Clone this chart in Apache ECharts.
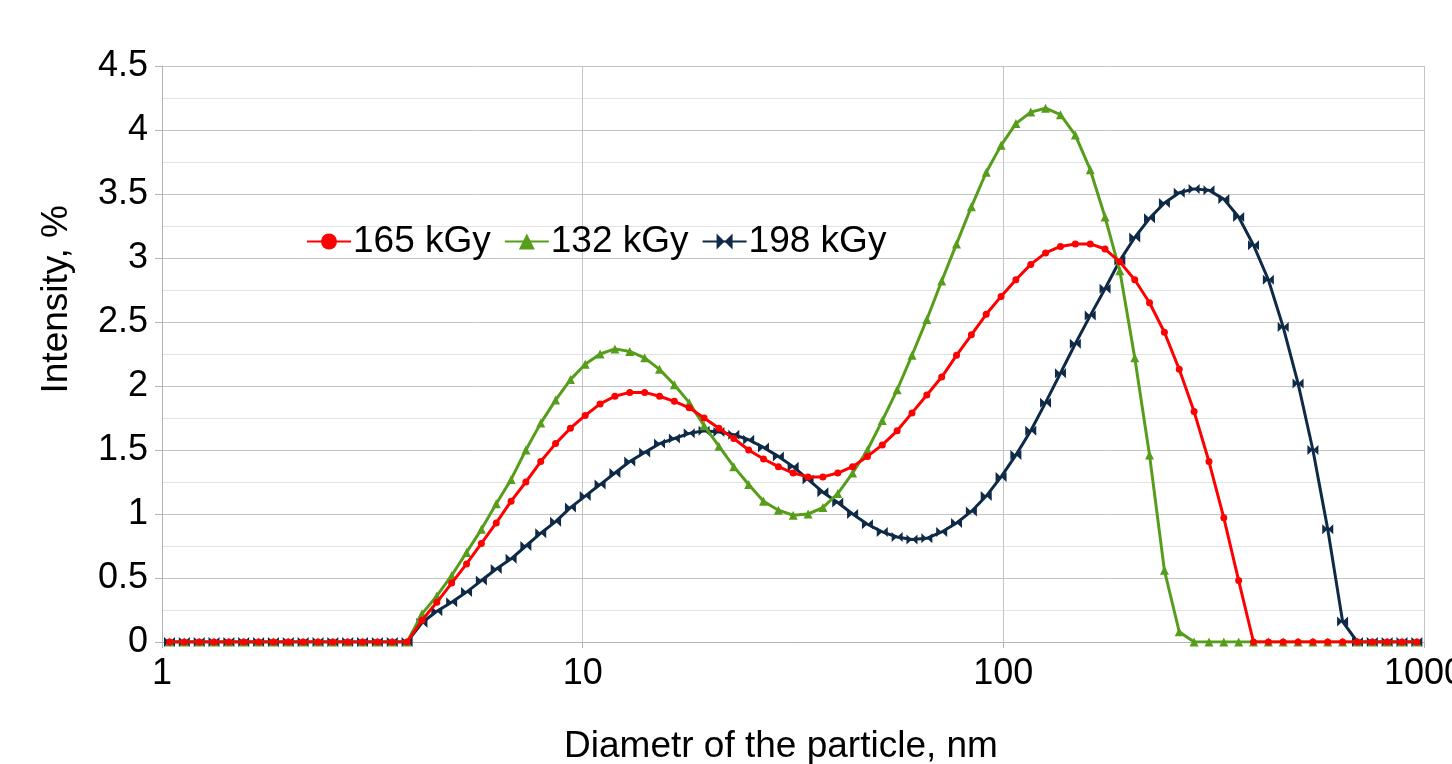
<!DOCTYPE html>
<html>
<head>
<meta charset="utf-8">
<script src="https://cdn.jsdelivr.net/npm/echarts@6/dist/echarts.min.js"></script>
<style>
  html, body { margin:0; padding:0; background:#fff; }
  #chart { width:1452px; height:764px; }
</style>
</head>
<body>
<div id="chart"></div>
<script>
// particle diameter bins, nm (log spaced)
var diameters = [
  1.042, 1.130, 1.226, 1.329, 1.442, 1.564, 1.697, 1.840, 1.996, 2.165,
  2.349, 2.547, 2.763, 2.997, 3.251, 3.527, 3.825, 4.149, 4.501, 4.882,
  5.296, 5.744, 6.231, 6.759, 7.328, 7.949, 8.622, 9.352, 10.14, 11.00,
  11.93, 12.94, 14.04, 15.23, 16.52, 17.92, 19.44, 21.08, 22.87, 24.81,
  26.91, 29.19, 31.65, 34.34, 37.24, 40.40, 43.82, 47.53, 51.55, 55.92,
  60.65, 65.79, 71.36, 77.40, 83.95, 91.06, 98.77, 107.1, 116.2, 126.0,
  136.7, 148.3, 160.9, 174.5, 189.2, 205.3, 222.6, 241.5, 261.9, 284.1,
  308.2, 334.3, 362.6, 393.3, 426.6, 462.7, 501.9, 544.4, 590.5, 640.5,
  694.7, 753.5, 817.3, 886.5, 961.6
];

// intensity, %
var kGy165 = [
  0, 0, 0, 0, 0, 0, 0, 0, 0, 0,
  0, 0, 0, 0, 0, 0, 0, 0.17, 0.31, 0.46,
  0.61, 0.77, 0.93, 1.10, 1.25, 1.41, 1.55, 1.67, 1.77, 1.86,
  1.92, 1.95, 1.95, 1.92, 1.88, 1.83, 1.75, 1.67, 1.59, 1.50,
  1.43, 1.37, 1.32, 1.29, 1.29, 1.32, 1.37, 1.45, 1.54, 1.65,
  1.79, 1.93, 2.07, 2.24, 2.40, 2.56, 2.70, 2.83, 2.95, 3.04,
  3.09, 3.11, 3.11, 3.07, 2.97, 2.83, 2.65, 2.42, 2.13, 1.80,
  1.41, 0.97, 0.48, 0, 0, 0, 0, 0, 0, 0,
  0, 0, 0, 0, 0
];
var kGy132 = [
  0, 0, 0, 0, 0, 0, 0, 0, 0, 0,
  0, 0, 0, 0, 0, 0, 0, 0.22, 0.36, 0.52,
  0.70, 0.88, 1.08, 1.27, 1.50, 1.71, 1.89, 2.05, 2.17, 2.25,
  2.29, 2.27, 2.22, 2.13, 2.01, 1.87, 1.69, 1.53, 1.37, 1.23,
  1.10, 1.03, 0.99, 1.00, 1.05, 1.16, 1.32, 1.50, 1.73, 1.97,
  2.24, 2.52, 2.82, 3.11, 3.40, 3.67, 3.88, 4.05, 4.14, 4.17,
  4.12, 3.96, 3.69, 3.32, 2.90, 2.22, 1.46, 0.56, 0.08, 0,
  0, 0, 0, 0, 0, 0, 0, 0, 0, 0,
  0, 0, 0, 0, 0
];
var kGy198 = [
  0, 0, 0, 0, 0, 0, 0, 0, 0, 0,
  0, 0, 0, 0, 0, 0, 0, 0.15, 0.24, 0.31,
  0.39, 0.48, 0.57, 0.65, 0.75, 0.85, 0.94, 1.05, 1.14, 1.23,
  1.32, 1.41, 1.48, 1.55, 1.59, 1.63, 1.65, 1.64, 1.62, 1.58,
  1.52, 1.45, 1.37, 1.27, 1.17, 1.09, 1.00, 0.92, 0.86, 0.82,
  0.80, 0.81, 0.86, 0.93, 1.02, 1.14, 1.29, 1.46, 1.65, 1.87,
  2.10, 2.33, 2.55, 2.76, 2.98, 3.16, 3.31, 3.43, 3.51, 3.54,
  3.53, 3.46, 3.32, 3.10, 2.83, 2.46, 2.02, 1.50, 0.88, 0.16,
  0, 0, 0, 0, 0
];

var seriesNames = ['165 kGy', '132 kGy', '198 kGy'];
var xTicks = [1, 10, 100, 1000];

var FONT = 'Liberation Sans';
var bowtie = 'path://M0,0 L5,5 L0,10 Z M10,0 L5,5 L10,10 Z';

function pairs(vals){
  var out = [];
  for(var i = 0; i < diameters.length; i++){
    out.push([diameters[i], vals[i]]);
  }
  return out;
}

var chart = echarts.init(document.getElementById('chart'), null, {renderer:'canvas'});

var option = {
  backgroundColor:'#ffffff',
  animation:false,
  textStyle:{ fontFamily:FONT, color:'#000' },
  grid:{
    left:162, right:28, top:66, bottom:122,
    containLabel:false,
    outerBoundsMode:'none'
  },
  legend:{
    data:seriesNames,
    left:301,
    top:218,
    itemWidth:44,
    itemHeight:20,
    itemGap:13,
    textStyle:{ fontFamily:FONT, fontSize:37, color:'#000', padding:[0,0,0,-3] }
  },
  xAxis:{
    type:'log',
    logBase:10,
    min:xTicks[0],
    max:xTicks[xTicks.length-1],
    name:'Diametr of the particle, nm',
    nameLocation:'middle',
    nameGap:86,
    nameTextStyle:{ fontFamily:FONT, fontSize:37, color:'#000', padding:[0,24,0,0] },
    axisLine:{ show:true, onZero:false, lineStyle:{ color:'#b3b3b3', width:1 } },
    axisTick:{ show:true, length:6, lineStyle:{ color:'#b3b3b3' } },
    axisLabel:{
      fontFamily:FONT, fontSize:36, color:'#000', margin:14,
      formatter:function(v){ return String(Math.round(v)); }
    },
    splitLine:{ show:true, lineStyle:{ color:'#c4c4c4', width:1 } },
    minorTick:{ show:false },
    minorSplitLine:{ show:false }
  },
  yAxis:{
    type:'value',
    min:0,
    max:4.5,
    interval:0.5,
    axisLine:{ show:true, lineStyle:{ color:'#b3b3b3', width:1 } },
    axisTick:{ show:true, length:7, lineStyle:{ color:'#b3b3b3' } },
    axisLabel:{ fontFamily:FONT, fontSize:36, color:'#000', margin:14 },
    splitLine:{ show:true, lineStyle:{ color:'#c4c4c4', width:1 } },
    minorTick:{ show:false, splitNumber:2 },
    minorSplitLine:{ show:true, lineStyle:{ color:'#e3e3e3', width:1 } }
  },
  graphic:[{
    type:'text',
    left:38,
    top:205,
    rotation:Math.PI/2,
    style:{
      text:'Intensity, %',
      font:'37px "Liberation Sans"',
      fill:'#000'
    }
  }],
  series:[
    {
      name:seriesNames[2],
      type:'line',
      data:pairs(kGy198),
      symbol:bowtie,
      symbolSize:[11,10],
      showAllSymbol:true,
      color:'#0e2a47',
      lineStyle:{ width:3, color:'#0e2a47' },
      itemStyle:{ color:'#0e2a47' },
      z:2
    },
    {
      name:seriesNames[1],
      type:'line',
      data:pairs(kGy132),
      symbol:'triangle',
      symbolSize:9,
      showAllSymbol:true,
      color:'#579d1c',
      lineStyle:{ width:3, color:'#579d1c' },
      itemStyle:{ color:'#579d1c' },
      z:3
    },
    {
      name:seriesNames[0],
      type:'line',
      data:pairs(kGy165),
      symbol:'circle',
      symbolSize:7,
      showAllSymbol:true,
      color:'#ff0000',
      lineStyle:{ width:3, color:'#ff0000' },
      itemStyle:{ color:'#ff0000' },
      z:4
    }
  ]
};

chart.setOption(option);
</script>
</body>
</html>
